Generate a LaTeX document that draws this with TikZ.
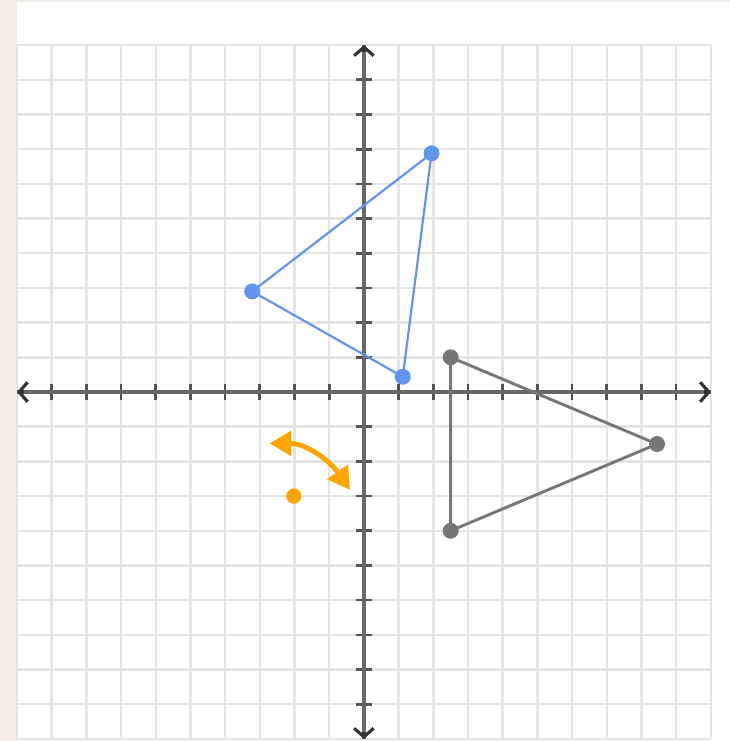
\documentclass[tikz,border=0pt]{standalone}
\usetikzlibrary{arrows.meta}
\definecolor{beige}{HTML}{F0EDE6}
\definecolor{gridc}{HTML}{E5E5E5}
\definecolor{axisc}{HTML}{686868}
\definecolor{bluec}{HTML}{6394EE}
\definecolor{grayc}{HTML}{777777}
\definecolor{orangec}{HTML}{FFA500}
\tikzset{
  gridline/.style={draw=gridc, line width=1pt},
  axisline/.style={draw=axisc, line width=1.5pt},
  axistip/.style={draw=black!80, line width=1.3pt, {Straight Barb[length=3.5pt,width=8pt]}-{Straight Barb[length=3.5pt,width=8pt]}, shorten <=0pt},
  tickmark/.style={draw=axisc!80!black, line width=1.1pt},
  bluetri/.style={draw=bluec, line width=0.9pt, line join=round},
  bluedot/.style={fill=bluec},
  graytri/.style={draw=grayc, line width=1.2pt, line join=round},
  graydot/.style={fill=grayc},
  orangearrow/.style={draw=orangec, line width=2pt, {Triangle[length=9pt,width=10pt]}-{Triangle[length=9pt,width=10pt]}},
}
\begin{document}
\begin{tikzpicture}[x=0.5cm,y=0.5cm]
\useasboundingbox (-10.49,-10.06) rectangle (10.55,11.30);
\fill[beige] (-10.49,-10.06) rectangle (10.55,11.30);
\fill[white] (-10,-10.06) rectangle (10.55,11.24);
% grid
\foreach \i in {-10,...,10} {
  \draw[gridline] (\i,-10) -- (\i,10);
  \draw[gridline] (-10,\i) -- (10,\i);
}
% ticks
\foreach \i in {-9,...,-1,1,2,...,9} {
  \draw[tickmark] (\i,-0.24) -- (\i,0.24);
  \draw[tickmark] (-0.24,\i) -- (0.24,\i);
}
% axes
\coordinate (xl) at (-10,0);
\coordinate (xr) at (10,0);
\coordinate (yb) at (0,-10);
\coordinate (yt) at (0,10);
\draw[axisline] (xl) -- (xr);
\draw[axisline] (yb) -- (yt);
\draw[axistip] (xl) -- (xr);
\draw[axistip] (yb) -- (yt);
\draw[axisline] (-9.8,0) -- (9.8,0);
\draw[axisline] (0,-9.8) -- (0,9.8);
% blue triangle
\coordinate (b1) at (1.95,6.88);
\coordinate (b2) at (-3.22,2.90);
\coordinate (b3) at (1.12,0.44);
\draw[bluetri] (b1) -- (b2) -- (b3) -- cycle;
\foreach \p in {b1,b2,b3} \fill[bluedot] (\p) circle (0.23);
% gray triangle
\coordinate (g1) at (2.5,1);
\coordinate (g2) at (2.5,-4);
\coordinate (g3) at (8.45,-1.5);
\draw[graytri] (g1) -- (g2) -- (g3) -- cycle;
\foreach \p in {g1,g2,g3} \fill[graydot] (\p) circle (0.23);
% rotation centre and arrow
\coordinate (o) at (-2.02,-3);
\fill[orangec] (o) circle (0.22);
\coordinate (oa) at (-2.72,-1.48);
\coordinate (ob) at (-0.40,-2.82);
\draw[orangearrow] (oa) to[out=0,in=125] (ob);
\end{tikzpicture}
\end{document}
